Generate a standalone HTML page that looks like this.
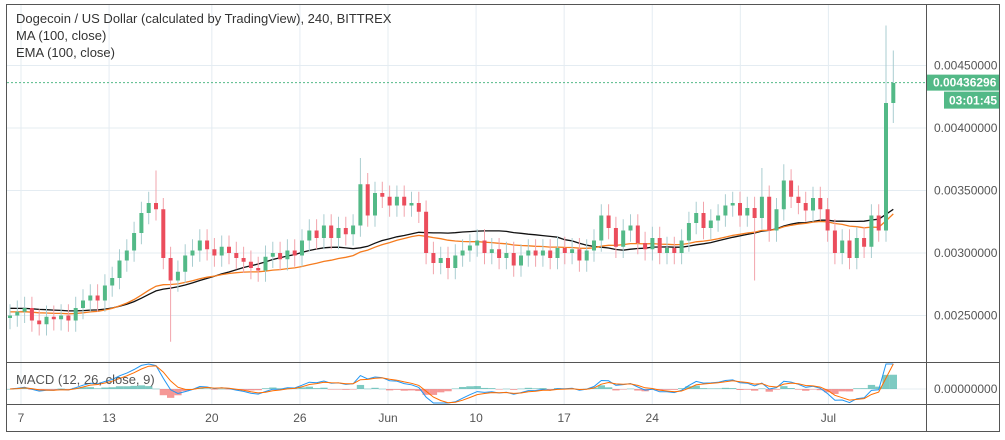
<!DOCTYPE html>
<html><head><meta charset="utf-8">
<style>
html,body{margin:0;padding:0;background:#fff;}
svg{display:block;font-family:"Liberation Sans",sans-serif;}
</style></head>
<body>
<svg id="chart" width="1005" height="440" viewBox="0 0 1005 440" xmlns="http://www.w3.org/2000/svg">
<g id="grid"></g>
<g id="ma"></g>
<g id="candles"></g>
<g id="macd"></g>
<g id="axes"></g>
<rect x="6.5" y="4.5" width="993" height="427" fill="none" stroke="#555" stroke-width="1"/>
<line x1="926.5" y1="4" x2="926.5" y2="432" stroke="#555"/>
<line x1="6" y1="362.5" x2="1000" y2="362.5" stroke="#555"/>
<line x1="6" y1="404.5" x2="1000" y2="404.5" stroke="#555"/>
<text x="16" y="23" font-size="13" fill="#333">Dogecoin / US Dollar (calculated by TradingView), 240, BITTREX</text>
<text x="16" y="40" font-size="13" fill="#333">MA (100, close)</text>
<text x="16" y="57" font-size="13" fill="#333">EMA (100, close)</text>
<text x="16" y="384" font-size="13" fill="#555">MACD (12, 26, close, 9)</text>
</svg>
<script>
const closes = [0.00250,0.00253,0.00256,0.00246,0.00243,0.00249,0.00247,0.00250,0.00246,0.00256,
0.00262,0.00266,0.00262,0.00274,0.00280,0.00294,0.00302,0.00316,0.00332,0.00340,
0.00335,0.00296,0.00278,0.00285,0.00298,0.00302,0.00310,0.00303,0.00298,0.00305,
0.00300,0.00296,0.00293,0.00288,0.00286,0.00297,0.00300,0.00295,0.00302,0.00298,
0.00310,0.00318,0.00312,0.00322,0.00312,0.00320,0.00315,0.00322,0.00355,0.00330,
0.00348,0.00345,0.00338,0.00345,0.00338,0.00340,0.00333,0.00300,0.00292,0.00296,
0.00288,0.00298,0.00302,0.00306,0.00310,0.00300,0.00303,0.00296,0.00300,0.00290,
0.00298,0.00302,0.00298,0.00302,0.00296,0.00304,0.00300,0.00303,0.00294,0.00302,
0.00310,0.00330,0.00320,0.00305,0.00318,0.00322,0.00308,0.00303,0.00312,0.00300,
0.00304,0.00300,0.00310,0.00324,0.00332,0.00320,0.00326,0.00330,0.00338,0.00340,
0.00330,0.00336,0.00328,0.00345,0.00318,0.00335,0.00358,0.00345,0.00340,0.00334,
0.00344,0.00335,0.00318,0.00300,0.00310,0.00296,0.00312,0.00305,0.00330,0.00318,
0.00420,0.00436];
const firstOpen = 0.00248;
const highIdx = [20,48,103,106,120,121];
const highVals = [0.00366,0.00376,0.00368,0.00371,0.00482,0.00462];
const lowIdx = [22,102,121];
const lowVals = [0.00229,0.00278,0.00404];
const priceTicks = [0.0045,0.0040,0.0035,0.0030,0.0025];
const timeLabels = ["7","13","20","26","Jun","10","17","24","","Jul"];
const timeDays = [0,6,13,19,25,31,37,43,49,55];
const lastPrice = 0.00436296;

const NS="http://www.w3.org/2000/svg";
function mk(parent,tag,attrs){const e=document.createElementNS(NS,tag);for(const k in attrs)e.setAttribute(k,attrs[k]);parent.appendChild(e);return e;}
const yP = p => 253 - (p-0.003)*125000;
const xI = i => 10 + i*7.3;
const xD = d => 21 + d*14.68;

const grid=document.getElementById('grid'), axes=document.getElementById('axes');
priceTicks.forEach(p=>{
  const l=mk(grid,'line',{x1:7,x2:926,y1:yP(p),y2:yP(p),stroke:'#e4ecf2'});
  
  
  const t=mk(axes,'text',{x:934,y:yP(p)+4,'font-size':12,fill:'#555'});
  t.textContent=p.toFixed(8);
  
  
});
timeDays.forEach((d,k)=>{
  const l=mk(grid,'line',{x1:xD(d),x2:xD(d),y1:5,y2:404,stroke:'#e4ecf2'});
  
  
  if(timeLabels[k]){
    const t=mk(axes,'text',{x:xD(d),y:422,'font-size':12,fill:'#555','text-anchor':'middle'});
    t.textContent=timeLabels[k];
    
    
  }
});
const z=mk(grid,'line',{x1:7,x2:926,y1:389,y2:389,stroke:'#e4ecf2'});


const zt=mk(axes,'text',{x:934,y:393,'font-size':12,fill:'#555'});
zt.textContent='0.00000000';



// moving averages
const N=28; const pre=0.00256;
let sma=[], ema=[], e=0.00253, a=2/(38+1);
closes.forEach((c,i)=>{
  let s=0; for(let j=i-N+1;j<=i;j++) s+= j>=0?closes[j]:pre;
  sma.push(s/N);
  e = e + a*(c-e); ema.push(e);
});
const maG=document.getElementById('ma');
const path=arr=>arr.map((v,i)=>(i?'L':'M')+xI(i).toFixed(1)+','+yP(v).toFixed(1)).join('');
const pm=mk(maG,'path',{d:path(sma),fill:'none',stroke:'#111',"stroke-width":1.3});


const pe=mk(maG,'path',{d:path(ema),fill:'none',stroke:'#f57c1f',"stroke-width":1.3});



// candles
const cg=document.getElementById('candles');
closes.forEach((c,i)=>{
  const o = i? closes[i-1] : firstOpen;
  let hi=Math.max(o,c)+0.00009, lo=Math.min(o,c)-0.00009;
  const hk=highIdx.indexOf(i); if(hk>=0) hi=highVals[hk];
  const lk=lowIdx.indexOf(i); if(lk>=0) lo=lowVals[lk];
  const up=c>=o, x=xI(i);
  const w=mk(cg,'line',{x1:x,x2:x,y1:yP(hi),y2:yP(lo),stroke:up?'#a9cdd0':'#f2a4ac'});
  
  
  const top=yP(Math.max(o,c)), h=Math.max(1,Math.abs(yP(o)-yP(c)));
  const b=mk(cg,'rect',{x:x-2,y:top,width:4,height:h,fill:up?'#53b987':'#eb4d5c'});
  
  
});

const lp=mk(axes,'line',{x1:7,x2:926,y1:yP(lastPrice),y2:yP(lastPrice),stroke:'#53b987','stroke-dasharray':'2,2'});


const lb=mk(axes,'rect',{x:927,y:yP(lastPrice)-8,width:73,height:16,fill:'#53b987'});


const lt=mk(axes,'text',{x:933,y:yP(lastPrice)+4,'font-size':12,fill:'#fff','font-weight':'bold'});
lt.textContent='0.00436296';


const cb=mk(axes,'rect',{x:944,y:yP(lastPrice)+9,width:55,height:17,fill:'#53b987'});


const ct=mk(axes,'text',{x:949,y:yP(lastPrice)+22,'font-size':12,fill:'#fff','font-weight':'bold'});
ct.textContent='03:01:45';



// MACD
let e1=closes[0],e2=closes[0],sig=0; const macd=[],sg=[];
closes.forEach(c=>{e1+= (2/5)*(c-e1); e2+=(2/10)*(c-e2); const m=e1-e2; sig+= (2/4)*(m-sig); macd.push(m); sg.push(sig);});
const k=20/0.00016;
const yM=v=>Math.max(364,Math.min(403,389 - v*k));
const mg=document.getElementById('macd');
macd.forEach((m,i)=>{
  const hv=m-sg[i]; const y=yM(hv);
  const r=mk(mg,'rect',{x:xI(i)-3.6,y:Math.min(y,389),width:7.3,height:Math.max(0.5,Math.abs(y-389)),fill:hv>=0?'#26a69a':'#ef5350',opacity:0.6});
  
  
});
const ml=mk(mg,'path',{d:macd.map((v,i)=>(i?'L':'M')+xI(i).toFixed(1)+','+yM(v).toFixed(1)).join(''),fill:'none',stroke:'#2196f3','stroke-width':1});


const sl=mk(mg,'path',{d:sg.map((v,i)=>(i?'L':'M')+xI(i).toFixed(1)+','+yM(v).toFixed(1)).join(''),fill:'none',stroke:'#ff6d00','stroke-width':1});


</script>
</body></html>
